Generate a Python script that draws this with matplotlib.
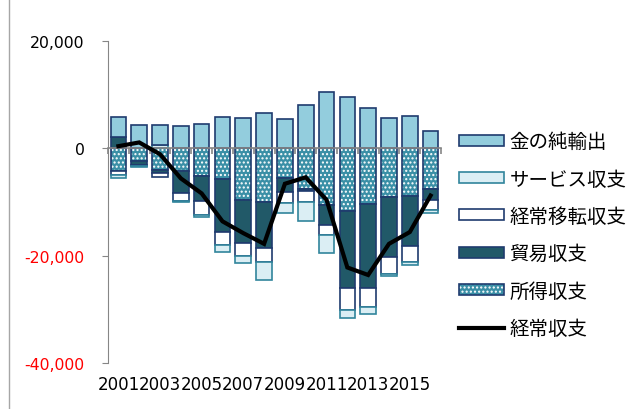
import matplotlib
matplotlib.use("Agg")
import matplotlib.pyplot as plt
import numpy as np
from matplotlib.patches import Patch
from matplotlib.lines import Line2D
from matplotlib.legend_handler import HandlerTuple

plt.rcParams['font.family'] = ['DejaVu Sans', 'Noto Sans CJK JP']

years = list(range(2001, 2017))
gold = [3700, 4400, 3800, 4160, 4530, 5900, 5650, 6650, 5400, 8070, 10430, 9500, 7580, 5710, 6090, 3150]
income = [-4200, -2450, -4050, -4160, -5150, -5780, -9630, -9940, -5460, -7600, -10560, -11610, -10430, -9000, -8880, -7500]
trade = [2200, -700, -620, -4220, -4660, -9750, -8070, -8570, -2600, -300, -3730, -14470, -15650, -11300, -9320, -2170]
transfers = [-750, -100, -620, -1370, -2600, -2480, -2300, -2600, -2170, -2170, -1860, -4040, -3420, -3100, -3040, -1860]
services = [-500, -200, 600, -300, -430, -1370, -1430, -3400, -1860, -3420, -3420, -1430, -1370, -300, -500, -500]
current = [400, 1100, -1100, -5600, -8400, -13600, -15800, -17800, -6600, -5400, -9600, -22200, -23600, -17800, -15600, -8800]
xlabels = [str(y) for y in years[::2]]
yticks = [20000, 0, -20000, -40000]
ytick_labels = ['20,000', '0', '-20,000', '-40,000']

NAVY = '#1F3B6E'
TEAL_EDGE = '#31859C'
GOLD_C = '#93CDDD'
SERV_C = '#DBEEF4'
TRADE_C = '#215968'
INC_C = '#3A8FA6'
GRAY = '#868686'

fig = plt.figure(figsize=(6.29, 4.10), dpi=100)
ax = fig.add_axes([108/629, (410-364)/410, (441-108)/629, (364-42)/410])

x = np.arange(len(years))
w = 0.75
pos = np.zeros(len(years))
neg = np.zeros(len(years))

def stack(vals):
    global pos, neg
    v = np.array(vals, dtype=float)
    bottom = np.where(v >= 0, pos, neg)
    pos = pos + np.where(v >= 0, v, 0)
    neg = neg + np.where(v < 0, v, 0)
    return v, bottom

plt.rcParams['hatch.linewidth'] = 1.0
HATCH = '....'
v, b = stack(income)
ax.bar(x, v, w, bottom=b, color=INC_C, edgecolor='white', hatch=HATCH, linewidth=0, zorder=2)
ax.bar(x, v, w, bottom=b, fill=False, edgecolor=NAVY, linewidth=1.2, zorder=3)
v, b = stack(trade)
ax.bar(x, v, w, bottom=b, color=TRADE_C, edgecolor=NAVY, linewidth=1.2, zorder=3)
v, b = stack(transfers)
ax.bar(x, v, w, bottom=b, color='white', edgecolor=NAVY, linewidth=1.2, zorder=3)
v, b = stack(services)
ax.bar(x, v, w, bottom=b, color=SERV_C, edgecolor=TEAL_EDGE, linewidth=1.2, zorder=3)
v, b = stack(gold)
ax.bar(x, v, w, bottom=b, color=GOLD_C, edgecolor=NAVY, linewidth=1.2, zorder=3)

ax.plot(x, current, color='black', linewidth=3, zorder=6, solid_joinstyle='miter')

ax.set_xlim(-0.5, len(years) - 0.5)
ax.set_ylim(-40000, 20000)

for s in ['top', 'right']:
    ax.spines[s].set_visible(False)
ax.spines['left'].set_color(GRAY)
ax.spines['bottom'].set_color(GRAY)
ax.spines['bottom'].set_position(('data', 0))
ax.spines['bottom'].set_zorder(5)
ax.spines['bottom'].set_linewidth(1.2)

ax.set_yticks(yticks)
ax.set_yticklabels(ytick_labels, fontsize=11.3)
for lbl, val in zip(ax.get_yticklabels(), yticks):
    lbl.set_color('red' if val < 0 else 'black')
ax.tick_params(axis='y', direction='out', length=4, color=GRAY, pad=13)

ax.set_xticks([])
ax.set_xticks(np.arange(-0.5, len(years), 1), minor=True)
ax.tick_params(axis='x', which='minor', direction='out', length=4, color=GRAY, width=1.2)
ax.tick_params(axis='x', which='major', length=0, labelbottom=False)

sec = ax.secondary_xaxis('bottom')
sec.set_xticks(x[::2], xlabels, fontsize=12.0)
sec.spines['bottom'].set_visible(False)
sec.tick_params(length=0, pad=9)

fig.add_artist(Line2D([9/629, 9/629], [0, 1], color='#A6A6A6', linewidth=1, transform=fig.transFigure))

handles = [
    Patch(facecolor=GOLD_C, edgecolor=NAVY, linewidth=1.2),
    Patch(facecolor=SERV_C, edgecolor=TEAL_EDGE, linewidth=1.2),
    Patch(facecolor='white', edgecolor=NAVY, linewidth=1.2),
    Patch(facecolor=TRADE_C, edgecolor=NAVY, linewidth=1.2),
    (Patch(facecolor=INC_C, edgecolor='white', hatch=HATCH, linewidth=0),
     Patch(fill=False, edgecolor=NAVY, linewidth=1.2)),
    Line2D([], [], color='black', linewidth=3),
]
labels = ['金の純輸出', 'サービス収支', '経常移転収支', '貿易収支', '所得収支', '経常収支']
leg = fig.legend(handles, labels, loc='center left', bbox_to_anchor=(459/629, (410-236)/410),
                 frameon=False, borderpad=0, borderaxespad=0,
                 handlelength=2.3, handleheight=0.5, handletextpad=0.3, labelspacing=0.84,
                 prop={'family': ['Noto Sans CJK JP'], 'size': 14},
                 handler_map={tuple: HandlerTuple(ndivide=1, pad=0)})

fig.savefig('out.png', dpi=100)
